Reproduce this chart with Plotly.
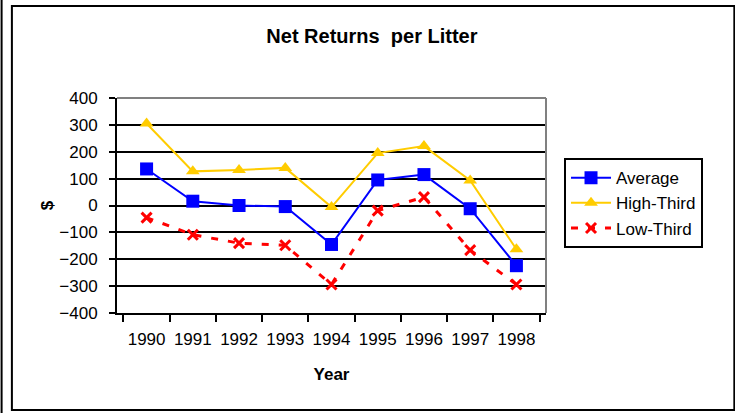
import plotly.graph_objects as go

years = ['1990', '1991', '1992', '1993', '1994', '1995', '1996', '1997', '1998']
average = [136, 16, 0, -4, -145, 95, 115, -12, -224]
high_third = [305, 127, 132, 140, -6, 195, 221, 93, -163]
low_third = [-45, -109, -140, -148, -294, -19, 31, -166, -294]

FONT = 'Arial, Liberation Sans, sans-serif'

fig = go.Figure()
fig.add_trace(go.Scatter(
    x=years, y=average, name='Average', mode='lines+markers',
    line=dict(color='#0000FF', width=2),
    marker=dict(symbol='square', size=13, color='#0000FF')
))
fig.add_trace(go.Scatter(
    x=years, y=high_third, name='High-Third', mode='lines+markers',
    line=dict(color='#FFCC00', width=2),
    marker=dict(symbol='triangle-up', size=12, color='#FFCC00')
))
fig.add_trace(go.Scatter(
    x=years, y=low_third, name='Low-Third', mode='lines+markers',
    line=dict(color='#FF0000', width=3, dash='7px,10px'),
    marker=dict(symbol='x-thin', size=10, color='#FF0000',
                line=dict(color='#FF0000', width=3))
))

fig.update_layout(
    width=735, height=413,
    margin=dict(l=117, r=189, t=98, b=100),
    paper_bgcolor='white', plot_bgcolor='white',
    font=dict(family=FONT, size=17, color='black'),
    title=dict(text='<b>Net Returns&nbsp; per Litter</b>', x=0.506, xanchor='center',
               y=0.912, yanchor='middle', font=dict(size=20)),
    legend=dict(x=1.042, y=0.72, xanchor='left', yanchor='top',
                bordercolor='black', borderwidth=2, bgcolor='white',
                font=dict(size=17), tracegroupgap=0, itemwidth=40),
    showlegend=True,
    shapes=[
        dict(type='rect', xref='paper', yref='paper', x0=-0.245, x1=1.439,
             y0=-0.451, y1=1.428, line=dict(color='black', width=2), layer='below'),
        dict(type='line', xref='paper', yref='paper', x0=-0.269, x1=-0.269,
             y0=-0.5, y1=1.5, line=dict(color='black', width=2), layer='below'),
        dict(type='line', xref='paper', yref='paper', x0=0, x1=1, y0=1, y1=1,
             line=dict(color='#808080', width=2), layer='above'),
        dict(type='line', xref='paper', yref='paper', x0=1, x1=1, y0=0, y1=1,
             line=dict(color='#808080', width=2), layer='above'),
    ],
)
fig.update_xaxes(
    type='category', tickson='boundaries', ticks='outside', ticklen=7,
    tickcolor='black', tickwidth=2, showline=True, linecolor='black', linewidth=2,
    showgrid=False, ticklabelstandoff=10, tickangle=0,
    title=dict(text='<b>Year</b>', font=dict(size=17), standoff=20),
    tickfont=dict(size=17)
)
fig.update_yaxes(
    range=[-400, 400], dtick=100, tick0=0, ticks='outside', ticklen=6,
    tickcolor='black', tickwidth=2, showline=True, linecolor='black', linewidth=2,
    showgrid=True, gridcolor='black', gridwidth=2, zeroline=False,
    ticklabelstandoff=8,
    title=dict(text='<b>$</b>', font=dict(size=17), standoff=1),
    tickfont=dict(size=17)
)

fig.write_html('out.html', config={'displayModeBar': False},
               post_script="document.body.style.margin='0';")
